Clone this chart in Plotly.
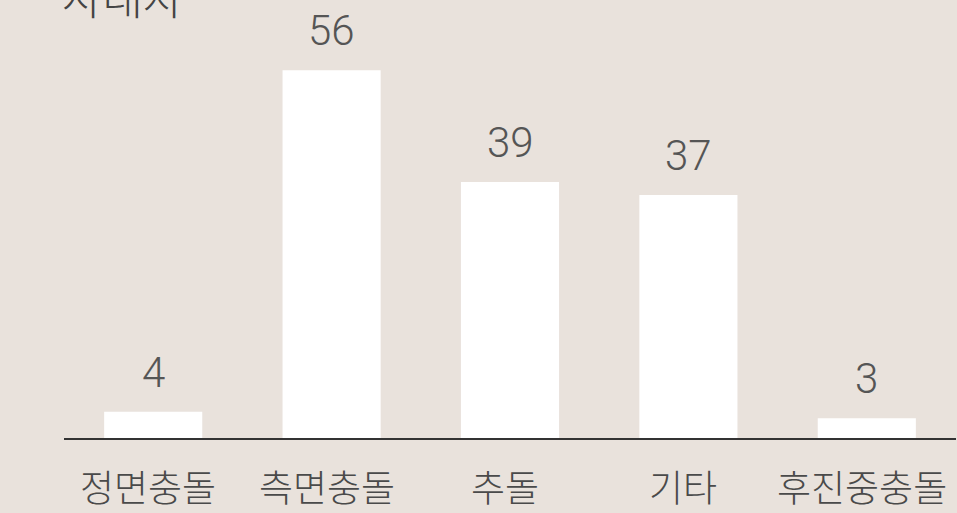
import plotly.graph_objects as go

categories = ["정면충돌", "측면충돌", "추돌", "기타", "후진중충돌"]
values = [4, 56, 39, 37, 3]
title_text = "사대자"

BG = "#e9e2dc"
FONT = "Noto Sans CJK KR"

fig = go.Figure(go.Bar(
    x=categories, y=values, marker_color="white", marker_line_width=0,
    width=0.55, hoverinfo="skip"))

for c, v in zip(categories, values):
    fig.add_annotation(x=c, y=v, text=str(v), showarrow=False, yanchor="bottom",
                       yshift=13, font=dict(family="Roboto", size=42, color="#555555", weight=300))

for c in categories:
    fig.add_annotation(x=c, y=0, yref="paper", text=c, showarrow=False, yanchor="middle",
                       yshift=-48, xshift=-5,
                       font=dict(family=FONT, size=37, color="#4a4a4a", weight=300))

fig.add_annotation(xref="paper", yref="paper", x=-0.005, y=0.9315, xanchor="left",
                   yanchor="bottom", text=title_text, showarrow=False,
                   font=dict(family=FONT, size=44, color="#444444", weight=300))

fig.update_layout(
    width=957, height=513, paper_bgcolor=BG, plot_bgcolor=BG,
    margin=dict(l=64, r=1, t=0, b=75), showlegend=False,
    xaxis=dict(range=[-0.5, 4.5], showline=True, linecolor="#333333", linewidth=2,
               showgrid=False, ticks="", showticklabels=False),
    yaxis=dict(range=[0, 66.7], visible=False),
)
fig.write_html("out.html", config={"displayModeBar": False},
               post_script="document.body.style.margin='0';document.body.style.background='%s';" % BG)
